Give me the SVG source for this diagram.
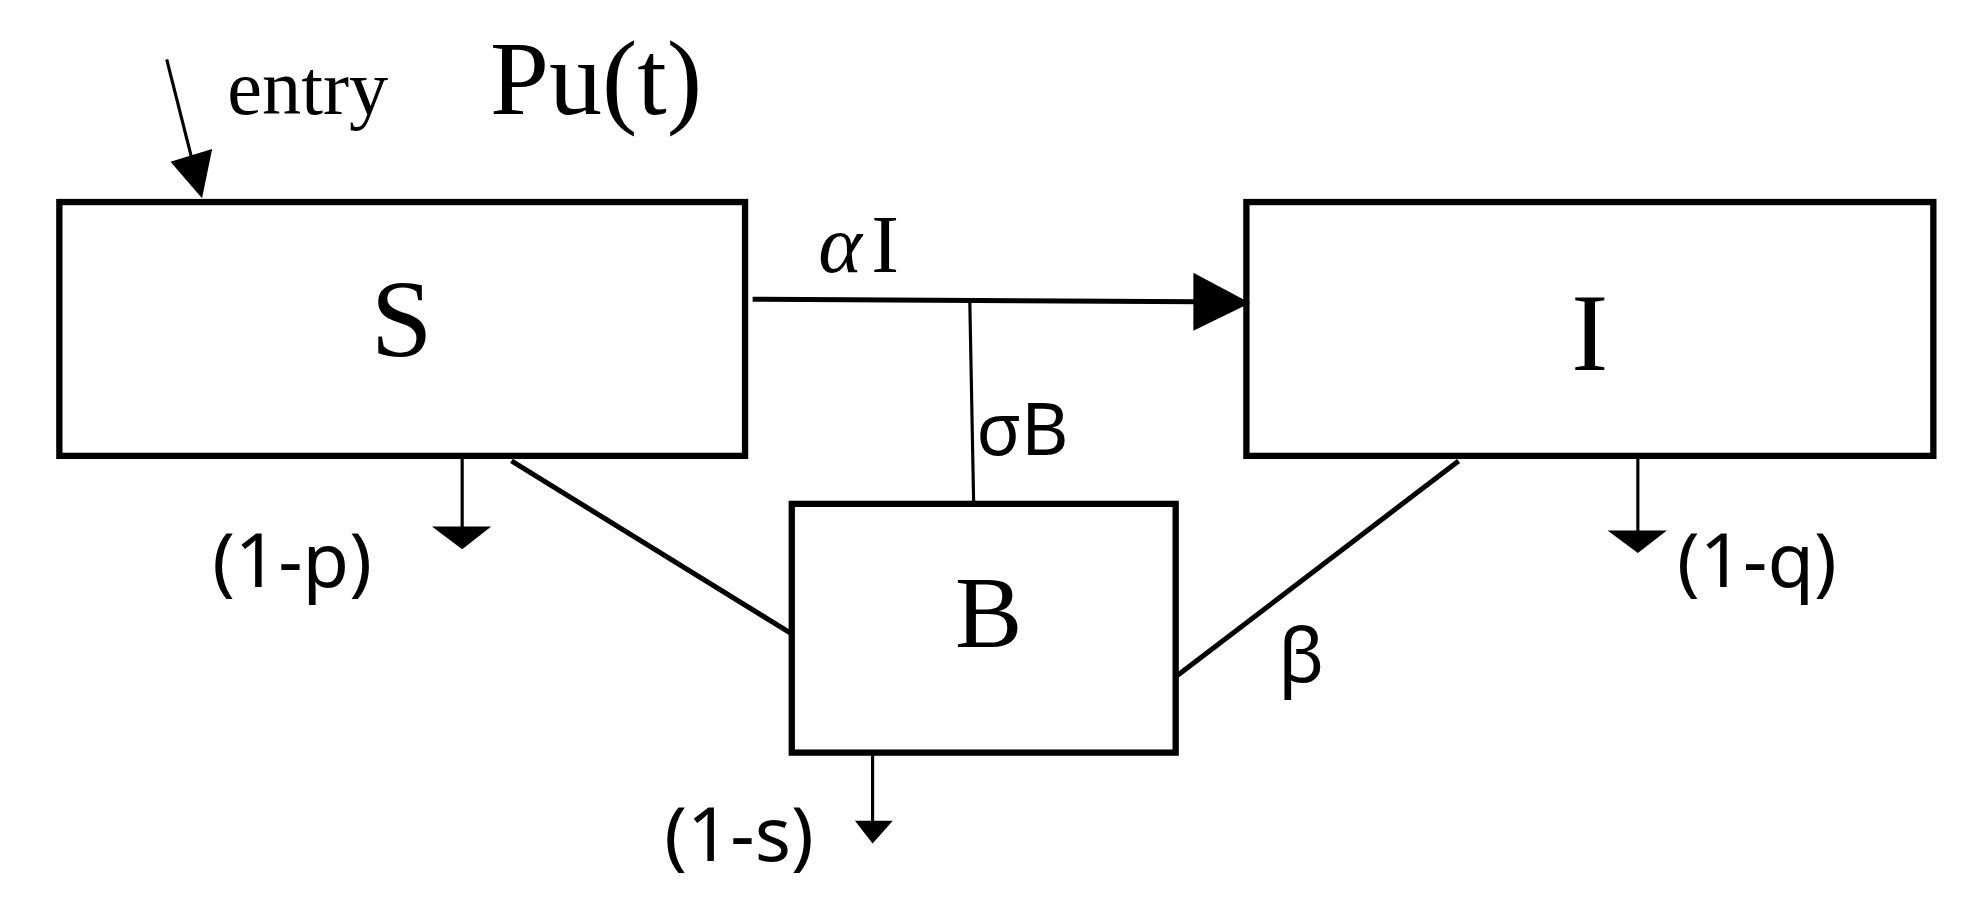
<svg xmlns="http://www.w3.org/2000/svg" width="1980" height="908" viewBox="0 0 1980 908">
<style>
.box{fill:#fff;stroke:#000;stroke-width:5}
.ln{stroke:#000;stroke-width:4;fill:none}
.tn{stroke:#000;stroke-width:2.5;fill:none}
.ser{font-family:"Liberation Serif",serif;fill:#000}
.san{font-family:"Noto Sans","DejaVu Sans",sans-serif;fill:#000}
</style>
<rect width="1980" height="908" fill="#fff"/>
<g transform="scale(1.2628)">
<g id="S"><rect class="box" x="47" y="160" width="543" height="201"/><text class="ser" x="318" y="282" font-size="88" text-anchor="middle">S</text></g>
<g id="I"><rect class="box" x="987" y="160" width="544" height="201"/><text class="ser" x="1259" y="293" font-size="88" text-anchor="middle">I</text></g>
<g id="B"><rect class="box" x="627" y="399" width="304" height="197"/><text class="ser" x="783" y="512" font-size="80" text-anchor="middle">B</text></g>
<g id="connectors">
<line class="tn" x1="132" y1="47" x2="154" y2="134"/><polygon points="160,157 135,128 168,118"/>
<line class="ln" x1="596" y1="237" x2="950" y2="239"/><polygon points="945,216 990,240 945,262"/>
<line class="tn" x1="768" y1="240" x2="771" y2="397"/>
<line class="tn" x1="366" y1="361" x2="366" y2="420"/><polygon points="342,417 389,417 366,435"/>
<line class="ln" x1="405" y1="365" x2="627" y2="502"/>
<line class="ln" x1="1155" y1="365" x2="931" y2="536"/>
<line class="tn" x1="1297" y1="361" x2="1297" y2="422"/><polygon points="1273,420 1320,420 1297,438"/>
<line class="tn" x1="691" y1="596" x2="691" y2="652"/><polygon points="677,650 707,650 691,668"/>
</g>
<g id="labels">
<text class="ser" x="180" y="90" font-size="62">entry</text>
<text class="ser" x="388" y="90" font-size="84">Pu(t)</text>
<text class="ser" x="648" y="215" font-size="66" font-style="italic">α</text><text class="ser" x="690" y="215" font-size="66">I</text>
<text class="san" x="773" y="360" font-size="58">σB</text>
<text class="san" x="168" y="465" font-size="60">(1-p)</text>
<text class="san" x="1328" y="465" font-size="60">(1-q)</text>
<text class="san" x="526" y="682" font-size="60">(1-s)</text>
<text class="san" x="1012" y="540" font-size="60">β</text>
</g>
</g>
</svg>
